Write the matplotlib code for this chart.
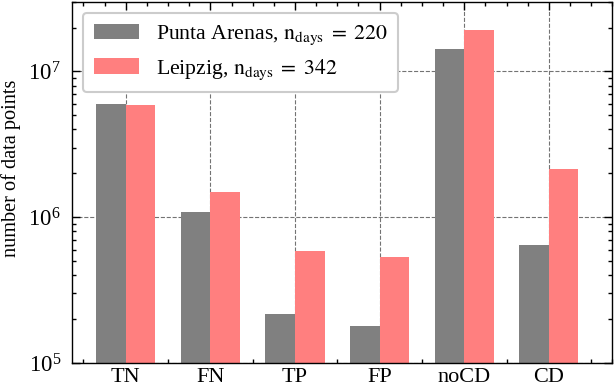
import matplotlib
matplotlib.use("Agg")
import matplotlib.pyplot as plt
import numpy as np

categories = ["TN", "FN", "TP", "FP", "noCD", "CD"]
punta = [6.0e6, 1.09e6, 2.17e5, 1.8e5, 1.43e7, 6.4e5]
leipzig = [5.9e6, 1.5e6, 5.9e5, 5.3e5, 1.94e7, 2.14e6]
label_punta = r"Punta Arenas, $\mathrm{n_{days}}\;=\;220$"
label_leipzig = r"Leipzig, $\mathrm{n_{days}}\;=\;342$"

plt.rcParams["font.family"] = ["Liberation Serif", "DejaVu Serif"]
plt.rcParams["mathtext.fontset"] = "stix"
plt.rcParams["font.size"] = 15.7

fig = plt.figure(figsize=(6.16, 3.89), dpi=100)
ax = fig.add_axes([0.117, 0.067, 0.877, 0.928])

x = np.arange(len(categories))
w = 0.35
ax.bar(x - w / 2, punta, w, color="0.5", label=label_punta, zorder=2)
ax.bar(x + w / 2, leipzig, w, color="#ff7f7f", label=label_leipzig, zorder=2)

ax.set_yscale("log")
ax.set_ylim(1e5, 3e7)
ax.set_xticks(x)
ax.set_xticklabels(categories, fontsize=16)
ax.set_xticks(np.arange(-0.5, len(categories), 0.25), minor=True)
ax.set_ylabel("number of data points", fontsize=14.6)
ax.yaxis.set_label_coords(-0.095, 0.54)

ax.grid(True, which="major", linestyle="--", color="0.45", linewidth=0.8, zorder=0)
ax.set_axisbelow(True)
ax.tick_params(which="both", direction="in", top=True, right=True)
ax.tick_params(which="major", length=6, width=1)
ax.tick_params(which="minor", length=3, width=1)
ax.tick_params(axis="x", which="major", pad=3.5)
ax.tick_params(axis="y", which="major", pad=8, labelsize=16.5)
for s in ax.spines.values():
    s.set_linewidth(1)

leg = ax.legend(loc="upper left", fancybox=True, framealpha=1, borderpad=0.5,
                handlelength=2.06, handleheight=0.73, handletextpad=0.78,
                labelspacing=0.45, borderaxespad=0.5)
leg.get_frame().set_edgecolor("0.8")
leg.get_frame().set_linewidth(1.5)

fig.savefig("out.png", dpi=100)
